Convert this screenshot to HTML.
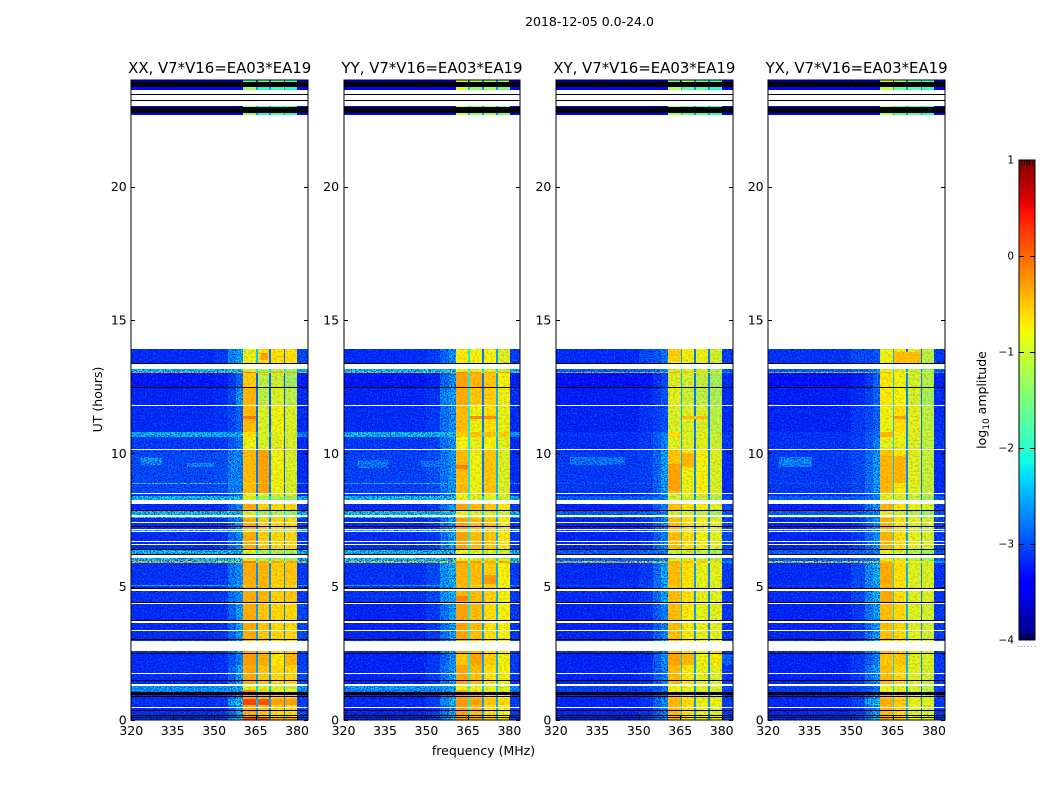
<!DOCTYPE html>
<html lang="en">
<head>
<meta charset="utf-8">
<title>2018-12-05 0.0-24.0</title>
<style>
html,body{margin:0;padding:0;background:#fff;width:1050px;height:800px;overflow:hidden}
svg{display:block}
text{font-family:"DejaVu Sans","Liberation Sans",sans-serif;fill:#000}
</style>
</head>
<body>
<svg id="fig" xmlns="http://www.w3.org/2000/svg" width="1050" height="800" viewBox="0 0 1050 800">
<defs>
<filter id="grain-light" x="0" y="0" width="100%" height="100%" color-interpolation-filters="sRGB">
<feTurbulence type="fractalNoise" baseFrequency="0.62" numOctaves="2" seed="4"/>
<feColorMatrix type="matrix" values="0 0 0 0 0  0 0 0 0 0.58  0 0 0 0 1  3.6 0 0 0 -1.95"/>
</filter>
<filter id="grain-dark" x="0" y="0" width="100%" height="100%" color-interpolation-filters="sRGB">
<feTurbulence type="fractalNoise" baseFrequency="0.7" numOctaves="2" seed="11"/>
<feColorMatrix type="matrix" values="0 0 0 0 0  0 0 0 0 0  0 0 0 0 0.85  3.6 0 0 0 -1.45"/>
</filter>
<filter id="grain-band" x="0" y="0" width="100%" height="100%" color-interpolation-filters="sRGB">
<feTurbulence type="fractalNoise" baseFrequency="0.45 0.55" numOctaves="2" seed="23"/>
<feColorMatrix type="matrix" values="0 0 0 0 1  0 0 0 0 0.42  0 0 0 0 0  3.6 0 0 0 -1.6"/>
</filter>
<linearGradient id="jet-gradient" x1="0" y1="1" x2="0" y2="0"></linearGradient>
</defs>
<text x="589.5" y="26" font-size="12.5" text-anchor="middle">2018-12-05 0.0-24.0</text>
<text x="483.5" y="755" font-size="12.5" text-anchor="middle">frequency (MHz)</text>
<text x="102" y="399.5" font-size="12.5" text-anchor="middle" transform="rotate(-90 102 399.5)">UT (hours)</text>
<text x="986" y="400" font-size="12.5" text-anchor="middle" transform="rotate(-90 986 400)">log<tspan font-size="9" dy="3">10</tspan><tspan dy="-3"> amplitude</tspan></text>
<g id="panels"></g>
<g id="colorbar"></g>
</svg>
<script>
// ---- chart data ----
const panelTitles = ["XX, V7*V16=EA03*EA19", "YY, V7*V16=EA03*EA19", "XY, V7*V16=EA03*EA19", "YX, V7*V16=EA03*EA19"];
const freqTicks = [320, 335, 350, 365, 380];
const hourTicks = [0, 5, 10, 15, 20];
const colorbarTicks = [1, 0, -1, -2, -3, -4];
const freqEdges = [320, 350, 355, 358, 360.6, 365.1, 365.7, 370, 370.7, 375.2, 375.8, 380.1, 384];

// start (upper edge, hours) of each time row; each row ends where the next starts
const rowTopHours = [
 24,23.925,23.74,23.625,23.46,23.42,23.24,23.2,23.03,22.98,
 22.76,22.69,13.91,13.38,13.34,13.15,13.05,13.0,12.49,12.45,
 11.81,11.78,10.81,10.62,10.16,10.13,8.89,8.85,8.53,8.49,
 8.41,8.25,8.1,7.89,7.86,7.7,7.62,7.56,7.41,7.38,
 7.28,7.24,7.17,7.14,7.09,7.05,6.7,6.66,6.61,6.57,
 6.4,6.36,6.24,6.2,6.06,5.95,5.89,5.06,5.03,4.94,
 4.9,4.85,4.43,4.38,4.34,3.74,3.7,3.65,3.38,3.34,
 3.04,3.0,2.96,2.6,2.51,2.48,2.06,1.75,1.71,1.49,
 1.45,1.36,1.28,1.13,1.05,0.95,0.9,0.86,0.79,0.56,
 0.5,0.46,0.375,0.34,0.2,0.16,0.1,0.075
];
// spectrum used by each row: w = no data (blank), k = below colour range (black)
const rowCodes = [
 "T1","k","T2","w","k","w","k","w","T2","k",
 "T2","w","A","k","w","C","R","B","k","P",
 "w","E","D","F","w","G","L","G","w","F",
 "C","w","H","k","C","w","C","H","w","H",
 "k","H","w","C","w","H","w","H","w","H",
 "k","C","k","w","C","R","I","L","I","k",
 "w","I","k","w","J","k","w","J","w","J",
 "k","J","w","J","k","M","J","w","J","k",
 "J","w","Q","O","k","J","k","J","N","J",
 "w","J","k","J","k","J","k","N"
];

// log10 amplitude per frequency column, one table per polarization
const xxSpectra = {
 T1:[-3.7,-3.7,-3.7,-3.7,-1.9,-3,-1.6,-3,-1.6,-3,-1.9,-3.7],
 T2:[-3.4,-3.4,-3.4,-3.4,-1.3,-2.6,-2,-2.6,-1.9,-2.6,-2,-3.4],
 A:[-3.1,-3,-2.5,-2.3,-0.9,-2.4,-0.7,-2.9,-0.7,-2.9,-0.7,-2.9],
 C:[-2.15,-2.15,-2.1,-2.05,-1,-2.2,-1.3,-2.3,-1.3,-2.3,-1.4,-2.2],
 R:[-0.7,-0.8,-0.8,-0.8,-0.1,-0.5,-0.4,-0.7,-0.4,-0.7,-0.4,-0.7],
 B:[-3.25,-3.2,-3,-2.7,-0.6,-2.9,-1.2,-2.9,-1.1,-3,-1.4,-3.2],
 P:[-3.15,-3.1,-2.9,-2.4,-0.45,-2.9,-1.2,-3,-1,-3,-1.2,-3.1],
 E:[-3.1,-3.05,-2.9,-2.7,-0.5,-2.9,-1,-3,-0.85,-3,-1,-3.1],
 D:[-2.2,-2.2,-2.2,-2.2,-0.7,-2.6,-1,-2.6,-0.9,-2.6,-1,-2.5],
 F:[-3,-3,-2.8,-2.6,-0.85,-2.9,-1,-2.9,-0.95,-3,-1,-3.1],
 G:[-2.9,-2.85,-2.6,-2.3,-0.5,-2.8,-0.35,-2.8,-0.85,-3,-1,-3.1],
 L:[-2.05,-2.05,-2.05,-2.05,-0.6,-2.2,-0.5,-2.4,-0.7,-2.4,-0.9,-2.3],
 H:[-3.1,-3.05,-2.7,-2.4,-0.4,-2.7,-0.6,-2.7,-0.65,-2.8,-0.65,-3],
 I:[-3.05,-3,-2.6,-2.4,-0.4,-2.7,-0.45,-2.7,-0.6,-2.8,-0.55,-3],
 J:[-3.1,-3.05,-2.7,-2.3,-0.4,-2.6,-0.55,-2.7,-0.65,-2.8,-0.65,-2.9],
 M:[-3.1,-3.05,-2.8,-2.5,-0.3,-2.6,-0.4,-2.7,-0.75,-2.8,-0.45,-3],
 N:[-3.05,-3,-2.3,-2,0.25,-2.5,0.15,-2.6,-0.35,-2.6,-0.3,-3],
 O:[-2.45,-2.4,-2.3,-2.2,-0.2,-2.3,-0.6,-2.5,-0.8,-2.5,-0.8,-2.5],
 Q:[-2.35,-2.35,-2.3,-2.2,-0.9,-2.3,-1,-2.4,-1,-2.4,-1.1,-2.4]
};
const yySpectra = {
 T1:[-3.7,-3.7,-3.7,-3.7,-0.9,-2.8,-1.2,-2.8,-1.2,-2.8,-1.4,-3.7],
 T2:[-3.4,-3.4,-3.4,-3.4,-0.9,-2.4,-1.4,-2.6,-1.3,-2.6,-1.5,-3.4],
 A:[-3.1,-3,-2.7,-2.4,-0.75,-2.2,-0.8,-2.8,-0.8,-2.6,-1,-3],
 C:[-2.15,-2.15,-2.1,-2.05,-0.9,-2,-1,-2.3,-1,-2.3,-1.1,-2.2],
 R:[-0.8,-0.9,-0.9,-0.8,-0.2,-0.7,-0.3,-0.7,-0.4,-0.7,-0.4,-0.9],
 B:[-3.25,-3.15,-2.7,-2.4,-0.35,-2.2,-0.45,-2.8,-0.55,-2.6,-0.8,-3.2],
 P:[-3.15,-3.05,-2.5,-2.3,-0.4,-2.2,-0.55,-2.8,-0.6,-2.5,-0.85,-3.1],
 E:[-3.1,-3,-2.6,-2.4,-0.5,-2.2,-0.85,-2.8,-0.7,-2.5,-0.9,-3.1],
 D:[-2.15,-2.15,-2.15,-2.1,-0.6,-2.1,-0.55,-2.4,-0.55,-2.3,-0.6,-2.4],
 F:[-3,-2.95,-2.6,-2.4,-0.8,-2.2,-0.9,-2.8,-0.8,-2.5,-0.95,-3.1],
 G:[-2.95,-2.85,-2.55,-2.35,-0.5,-2.2,-0.85,-2.8,-0.55,-2.5,-1,-3.1],
 L:[-2.2,-2.2,-2.2,-2.2,-0.6,-2.1,-0.8,-2.4,-0.6,-2.3,-0.9,-2.4],
 H:[-3.1,-3,-2.6,-2.3,-0.35,-2.2,-0.5,-2.7,-0.55,-2.5,-0.75,-3],
 I:[-3.05,-2.9,-2.4,-2.2,-0.45,-2.2,-0.5,-2.6,-0.6,-2.5,-0.8,-3],
 J:[-3.15,-3,-2.6,-2.3,-0.35,-2.2,-0.5,-2.6,-0.7,-2.5,-0.8,-3],
 M:[-3.15,-3,-2.7,-2.4,-0.55,-2.2,-0.35,-2.6,-0.6,-2.5,-0.85,-3],
 N:[-3.1,-3,-2.4,-2.1,-0.3,-2.2,-0.35,-2.6,-0.55,-2.5,-0.65,-3],
 O:[-2.55,-2.5,-2.4,-2.2,-0.4,-2.1,-0.7,-2.5,-0.8,-2.4,-0.9,-2.6],
 Q:[-2.35,-2.35,-2.3,-2.2,-0.85,-2.1,-0.9,-2.4,-0.95,-2.4,-1.05,-2.4]
};
const xySpectra = {
 T1:[-3.7,-3.7,-3.7,-3.7,-1.6,-2.8,-1.2,-2.8,-1.5,-2.8,-1.9,-3.7],
 T2:[-3.4,-3.4,-3.4,-3.4,-1.2,-2.5,-1.7,-2.6,-1.7,-2.6,-2,-3.4],
 A:[-3.1,-2.9,-2.8,-2.6,-0.85,-2.6,-0.85,-2.8,-0.85,-2.8,-1.05,-3],
 C:[-2.75,-2.7,-2.6,-2.5,-1.05,-2.4,-1.05,-2.6,-1.15,-2.6,-1.35,-2.8],
 R:[-0.75,-0.8,-0.8,-0.9,-0.4,-0.7,-0.5,-0.7,-0.6,-0.8,-0.7,-2.4],
 B:[-3.3,-3.25,-3.05,-2.9,-1,-2.6,-1.05,-2.8,-1.15,-2.8,-1.35,-3.1],
 P:[-3.2,-3.15,-3,-2.8,-0.95,-2.6,-1.1,-2.8,-1.2,-2.8,-1.3,-3.1],
 E:[-3.15,-3.05,-2.95,-2.85,-1,-2.6,-1,-2.8,-1,-2.8,-1.2,-3.1],
 D:[-3.05,-3,-2.7,-2.5,-0.7,-2.5,-1,-2.7,-0.9,-2.7,-1.15,-3],
 F:[-3.1,-3,-2.8,-2.5,-0.95,-2.6,-0.95,-2.8,-0.95,-2.8,-1.1,-3],
 G:[-3,-2.95,-2.7,-2.3,-0.55,-2.5,-0.85,-2.7,-0.8,-2.8,-1,-3.1],
 L:[-2.85,-2.8,-2.6,-2.4,-0.6,-2.5,-0.95,-2.7,-0.85,-2.7,-1.1,-3],
 H:[-3.15,-3.05,-2.75,-2.5,-0.5,-2.5,-0.7,-2.7,-0.8,-2.7,-0.95,-2.9],
 I:[-3.1,-3,-2.65,-2.25,-0.5,-2.4,-0.7,-2.6,-0.9,-2.7,-0.95,-3],
 J:[-3.15,-3.05,-2.75,-2.5,-0.5,-2.4,-0.75,-2.6,-0.9,-2.7,-0.95,-3],
 M:[-3.15,-3.1,-2.75,-2.4,-0.35,-2.4,-0.45,-2.6,-0.85,-2.7,-0.75,-2.7],
 N:[-3.15,-3.05,-2.7,-2.4,-0.45,-2.4,-0.65,-2.6,-0.85,-2.7,-0.85,-3],
 O:[-3,-3,-2.8,-2.6,-0.85,-2.4,-0.95,-2.6,-1,-2.7,-1.1,-3],
 Q:[-2.95,-2.9,-2.8,-2.6,-0.8,-2.4,-0.85,-2.6,-0.95,-2.7,-1,-2.9]
};
const yxSpectra = {
 T1:[-3.7,-3.7,-3.7,-3.7,-1,-2.8,-1.2,-2.8,-1.5,-2.8,-1.9,-3.7],
 T2:[-3.4,-3.4,-3.4,-3.4,-1.1,-2.5,-1.7,-2.6,-1.7,-2.6,-2,-3.4],
 A:[-3.05,-2.9,-2.9,-2.8,-0.85,-2.5,-0.75,-2.8,-0.95,-2.9,-1.2,-3],
 C:[-2.75,-2.7,-2.6,-2.5,-0.95,-2.3,-1.05,-2.6,-1.2,-2.8,-1.4,-2.8],
 R:[-0.85,-0.9,-0.9,-0.9,-0.5,-0.8,-0.7,-0.9,-0.9,-1,-1,-2.2],
 B:[-3.3,-3.2,-3,-2.7,-0.75,-2.4,-0.85,-2.7,-1.05,-2.8,-1.25,-3.2],
 P:[-3.2,-3.1,-2.95,-2.7,-0.75,-2.4,-0.8,-2.7,-1.05,-2.9,-1.35,-3.1],
 E:[-3.15,-3,-2.9,-2.7,-0.85,-2.4,-0.7,-2.7,-0.95,-2.9,-1.2,-3.1],
 D:[-3.05,-3,-2.75,-2.6,-0.45,-2.4,-0.8,-2.7,-0.95,-2.9,-1.1,-3.05],
 F:[-3.05,-2.95,-2.8,-2.5,-0.9,-2.4,-0.9,-2.7,-1,-2.9,-1.2,-3],
 G:[-3,-2.9,-2.65,-2.35,-0.55,-2.4,-0.75,-2.7,-0.95,-2.9,-1.15,-3.1],
 L:[-2.85,-2.8,-2.6,-2.4,-0.6,-2.3,-0.75,-2.6,-0.95,-2.8,-1.2,-3],
 H:[-3.15,-3,-2.65,-2.35,-0.45,-2.3,-0.7,-2.6,-0.9,-2.8,-1,-3],
 I:[-3.1,-2.9,-2.45,-2.2,-0.4,-2.3,-0.7,-2.5,-0.95,-2.8,-1,-3.05],
 J:[-3.15,-3,-2.6,-2.3,-0.5,-2.3,-0.65,-2.5,-0.95,-2.8,-1.05,-3],
 M:[-3.15,-3,-2.75,-2.5,-0.55,-2.3,-0.55,-2.5,-0.95,-2.8,-1,-3],
 N:[-3.1,-2.9,-2.3,-2,-0.4,-2.3,-0.55,-2.5,-0.9,-2.8,-0.95,-3],
 O:[-3,-2.95,-2.7,-2.5,-0.85,-2.3,-0.95,-2.6,-1.05,-2.8,-1.2,-3],
 Q:[-2.95,-2.9,-2.8,-2.6,-0.85,-2.3,-0.95,-2.6,-1.05,-2.8,-1.2,-2.9]
};
const panelSpectra = [xxSpectra, yySpectra, xySpectra, yxSpectra];

// localized features: [hour start, hour end, freq low, freq high, log10 amplitude]
const xxFeatures = [
 [9.85,9.55,323,331,-2.45],[9.62,9.48,340,350,-2.5],[10.1,8.55,355,360.6,-2.5],
 [13.75,13.5,367,369.5,-0.3],[11.4,11.3,360.6,365.1,-0.1]
];
const yyFeatures = [
 [9.75,9.45,325,336,-2.6],[9.7,9.5,348,356,-2.6],[9.55,9.4,360.6,365.1,-0.1],
 [11.4,11.3,365.7,370,-0.2],[11.4,11.3,370.7,375.2,-0.2],[4.65,4.45,360.6,365.1,-0.15],
 [5.45,5.1,370.7,375.2,-0.3]
];
const xyFeatures = [
 [9.85,9.55,325,345,-2.6],[9.6,8.6,360.6,365.1,-0.35],[10,9.5,365.7,370,-0.45],
 [11.4,11.3,365.7,375.2,-0.5],[13.9,13.45,360.6,365.1,-0.6]
];
const yxFeatures = [
 [9.85,9.5,324,336,-2.5],[9.9,8.6,360.6,365.1,-0.45],[9.9,8.9,365.7,370,-0.45],
 [11.4,11.3,365.7,370,-0.3],[13.8,13.4,365.7,375.2,-0.5]
];
const panelFeatures = [xxFeatures, yyFeatures, xyFeatures, yxFeatures];

// ---- scales ----
const NS = "http://www.w3.org/2000/svg";
const plotTop = 80, plotBottom = 720, panelWidth = 176.9, panelStep = 212.3, panelLeft0 = 131.25;
const freqMin = 320, freqMax = 384, hourMin = 0, hourMax = 24;
const ampMin = -4, ampMax = 1;
const barLeft = 1019, barRight = 1035, barTop = 160, barBottom = 640;
const grainTopHour = 13.91;

function xScale(f, left) { return left + (f - freqMin) / (freqMax - freqMin) * panelWidth; }
function yScale(h) { return plotBottom - (h - hourMin) / (hourMax - hourMin) * (plotBottom - plotTop); }
function barScale(v) { return barBottom - (v - ampMin) / (ampMax - ampMin) * (barBottom - barTop); }
function interp(t, xs, ys) {
  if (t <= xs[0]) return ys[0];
  for (let i = 1; i < xs.length; i++) {
    if (t <= xs[i]) return ys[i-1] + (ys[i]-ys[i-1]) * (t-xs[i-1]) / (xs[i]-xs[i-1]);
  }
  return ys[ys.length-1];
}
function jet(t) {
  const r = interp(t, [0.35, 0.66, 0.89, 1], [0, 1, 1, 0.5]);
  const g = interp(t, [0.125, 0.375, 0.64, 0.91], [0, 1, 1, 0]);
  const b = interp(t, [0, 0.11, 0.34, 0.65], [0.5, 1, 1, 0]);
  return "rgb(" + Math.round(r*255) + "," + Math.round(g*255) + "," + Math.round(b*255) + ")";
}
function ampColor(v) {
  if (v < ampMin) return "#000";
  return jet((v - ampMin) / (ampMax - ampMin));
}
function make(tag, attrs, parent) {
  const e = document.createElementNS(NS, tag);
  for (const k in attrs) e.setAttribute(k, attrs[k]);
  parent.appendChild(e);
  return e;
}
function rowBottom(i) { return i + 1 < rowTopHours.length ? rowTopHours[i + 1] : hourMin; }

// ---- panels ----
const panelsRoot = document.getElementById("panels");
panelTitles.forEach(function (title, p) {
  const left = panelLeft0 + p * panelStep;
  const right = left + panelWidth;
  const spectra = panelSpectra[p];
  const g = make("g", {}, panelsRoot);
  
  

  const heat = make("g", {"shape-rendering": "crispEdges"}, g);
  
  

  rowCodes.forEach(function (code, r) {
    const y0 = Math.round(yScale(rowTopHours[r]));
    const y1 = Math.max(y0 + 1, Math.round(yScale(rowBottom(r))));
    if (code === "w" || code === "k") return;
    spectra[code].forEach(function (v, c) {
      const x0 = Math.round(xScale(freqEdges[c], left));
      const x1 = Math.round(xScale(freqEdges[c + 1], left));
      const cell = make("rect", {x: x0, y: y0, width: x1 - x0, height: y1 - y0, fill: ampColor(v)}, heat);
      
      
    });
  });

  panelFeatures[p].forEach(function (f) {
    const x0 = Math.round(xScale(f[2], left));
    const x1 = Math.round(xScale(f[3], left));
    const y0 = Math.round(yScale(f[0]));
    const y1 = Math.max(y0 + 1, Math.round(yScale(f[1])));
    const patch = make("rect", {x: x0, y: y0, width: x1 - x0, height: y1 - y0, fill: ampColor(f[4])}, heat);
    
    
  });

  // speckle over the out-of-band background
  const gy = Math.round(yScale(grainTopHour));
  [[freqMin, freqEdges[4]], [freqEdges[11], freqMax]].forEach(function (range) {
    ["grain-light", "grain-dark"].forEach(function (f) {
      const x0 = Math.round(xScale(range[0], left));
      const x1 = Math.round(xScale(range[1], left));
      const noise = make("rect", {x: x0, y: gy, width: x1 - x0, height: plotBottom - gy, filter: "url(#" + f + ")", opacity: 0.8}, g);
      
      
    });
  });
  // fainter mottling inside the four bright bands
  [4, 6, 8, 10].forEach(function (c) {
    const x0 = Math.round(xScale(freqEdges[c], left));
    const x1 = Math.round(xScale(freqEdges[c + 1], left));
    const mottle = make("rect", {x: x0, y: gy, width: x1 - x0, height: plotBottom - gy, filter: "url(#grain-band)", opacity: 0.45}, g);
    
    
  });

  // blank and under-range rows sit above the speckle
  const masks = make("g", {"shape-rendering": "crispEdges"}, g);
  
  
  rowCodes.forEach(function (code, r) {
    if (code !== "w" && code !== "k") return;
    const y0 = Math.round(yScale(rowTopHours[r]));
    const y1 = Math.max(y0 + 1, Math.round(yScale(rowBottom(r))));
    const x0 = Math.round(left), x1 = Math.round(right);
    const band = make("rect", {x: x0, y: y0, width: x1 - x0, height: y1 - y0, fill: code === "w" ? "#fff" : "#000"}, masks);
    
    
  });

  // frame
  const fx0 = Math.round(left), fx1 = Math.round(right);
  const frame = make("rect", {x: fx0, y: plotTop, width: fx1 - fx0, height: plotBottom - plotTop, fill: "none", stroke: "#000", "stroke-width": 1}, g);
  
  

  // x ticks + labels
  freqTicks.forEach(function (f) {
    const tx = Math.round(xScale(f, left)) + 0.5;
    [[plotBottom, plotBottom - 4], [plotTop, plotTop + 4]].forEach(function (s) {
      const tick = make("line", {x1: tx, x2: tx, y1: s[0], y2: s[1], stroke: "#000", "stroke-width": 1}, g);
      
      
    });
    const lab = make("text", {x: xScale(f, left), y: 735, "font-size": 12.5, "text-anchor": "middle"}, g);
    
    
    lab.textContent = f;
  });

  // y ticks + labels
  hourTicks.forEach(function (h) {
    const ty = Math.round(yScale(h)) + 0.5;
    [[fx0, fx0 + 4], [fx1, fx1 - 4]].forEach(function (s) {
      const tick = make("line", {x1: s[0], x2: s[1], y1: ty, y2: ty, stroke: "#000", "stroke-width": 1}, g);
      
      
    });
    const lab = make("text", {x: left - 4.5, y: yScale(h) + 4.5, "font-size": 12.5, "text-anchor": "end"}, g);
    
    
    lab.textContent = h;
  });

  const ttl = make("text", {x: (left + right) / 2, y: 73, "font-size": 14.9, "text-anchor": "middle"}, g);
  
  
  ttl.textContent = title;
});

// ---- colorbar ----
const grad = document.getElementById("jet-gradient");
for (let i = 0; i <= 64; i++) {
  make("stop", {offset: (i / 64), "stop-color": jet(i / 64)}, grad);
}
const bar = document.getElementById("colorbar");
const ramp = make("rect", {x: barLeft, y: barTop, width: barRight - barLeft, height: barBottom - barTop, fill: "url(#jet-gradient)", stroke: "#000", "stroke-width": 1}, bar);



colorbarTicks.forEach(function (v) {
  const ty = Math.round(barScale(v)) + 0.5;
  if (v !== ampMax && v !== ampMin) {
    [[barLeft, barLeft + 5], [barRight, barRight - 5]].forEach(function (s) {
      const tick = make("line", {x1: s[0], x2: s[1], y1: ty, y2: ty, stroke: "#000", "stroke-width": 1}, bar);
      
      
    });
  }
  const lab = make("text", {x: 1014, y: barScale(v) + 3.5, "font-size": 10.5, "text-anchor": "end"}, bar);
  
  
  lab.textContent = String(v).replace("-", "\u2212");
});

// dense minor ticks at both ends of the bar
for (let i = 0; i < 5; i++) {
  const mx = 1022 + i * 2.6;
  const top = make("line", {x1: mx, x2: mx, y1: barTop, y2: barTop + 5.5, stroke: "#000", "stroke-width": 0.8}, bar);
  
  
  const bottom = make("line", {x1: mx, x2: mx, y1: barBottom, y2: barBottom - 5.5, stroke: "#000", "stroke-width": 0.8}, bar);
  
  
}
// faint dotted artefact below the bar
for (let i = 0; i < 6; i++) {
  const dot = make("rect", {x: 1017.5 + i * 3.4, y: 646, width: 1, height: 1, fill: "#888"}, bar);
  
  
}
</script>
</body>
</html>
